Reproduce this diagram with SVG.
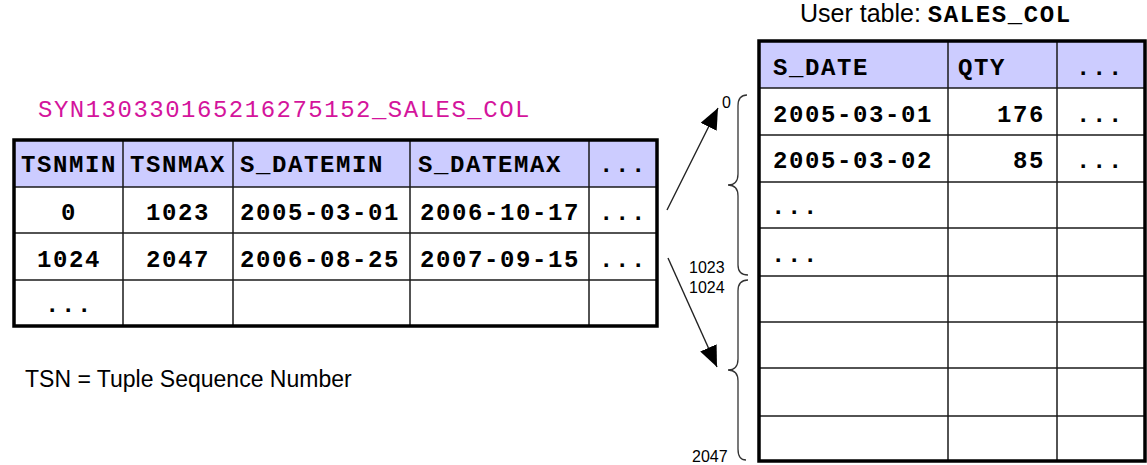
<svg xmlns="http://www.w3.org/2000/svg" width="1147" height="465" viewBox="0 0 1147 465">
  <style>
    .mono { font-family: "Liberation Mono", "DejaVu Sans Mono", monospace; font-size: 24px; letter-spacing: 1.6px; fill: #000; }
    .b { font-weight: bold; }
    .mid { text-anchor: middle; }
    .end { text-anchor: end; }
    .sans { font-family: "Liberation Sans", Arial, sans-serif; fill: #000; }
    .hdr { fill: #ccccff; }
    .grid { stroke: #1a1a1a; stroke-width: 1.5; fill: none; }
    .frame { stroke: #000; stroke-width: 3.5; fill: none; }
    .conn { stroke: #222; stroke-width: 1.4; fill: none; }
    .brace { stroke: #333; stroke-width: 1.3; fill: none; }
    .lbl { font-family: "Liberation Sans", Arial, sans-serif; font-size: 16px; fill: #000; }
  </style>
  <defs>
    <marker id="head" markerUnits="userSpaceOnUse" markerWidth="24" markerHeight="20" refX="21" refY="9" orient="auto">
      <path d="M0,0 L21,9 L0,18 z" fill="#000"/>
    </marker>
  </defs>

  <rect width="1147" height="465" fill="#fff"/>

  <!-- synopsis table -->
  <g id="synopsis-table">
    <text class="mono" x="38" y="117" style="fill:#d4149c;letter-spacing:1.5px">SYN130330165216275152_SALES_COL</text>
    <rect class="hdr" x="14" y="140" width="643" height="47"/>
    <g class="grid">
      <line x1="14" y1="187" x2="657" y2="187"/>
      <line x1="14" y1="233" x2="657" y2="233"/>
      <line x1="14" y1="280" x2="657" y2="280"/>
      <line x1="123" y1="140" x2="123" y2="326"/>
      <line x1="233" y1="140" x2="233" y2="326"/>
      <line x1="410" y1="140" x2="410" y2="326"/>
      <line x1="589" y1="140" x2="589" y2="326"/>
    </g>
    <rect class="frame" x="14" y="140" width="643" height="186"/>
    <text class="mono b mid" x="69" y="172">TSNMIN</text>
    <text class="mono b mid" x="178" y="172">TSNMAX</text>
    <text class="mono b" x="240" y="172">S_DATEMIN</text>
    <text class="mono b" x="418" y="172">S_DATEMAX</text>
    <text class="mono b mid" x="623" y="172">...</text>

    <text class="mono b mid" x="69" y="220">0</text>
    <text class="mono b mid" x="178" y="220">1023</text>
    <text class="mono b" x="240" y="220">2005-03-01</text>
    <text class="mono b" x="420" y="220">2006-10-17</text>
    <text class="mono b mid" x="623" y="220">...</text>

    <text class="mono b mid" x="69" y="267">1024</text>
    <text class="mono b mid" x="178" y="267">2047</text>
    <text class="mono b" x="240" y="267">2006-08-25</text>
    <text class="mono b" x="420" y="267">2007-09-15</text>
    <text class="mono b mid" x="623" y="267">...</text>

    <text class="mono b mid" x="69" y="312">...</text>
  </g>

  <text id="footnote" class="sans" x="25" y="387" font-size="23">TSN = Tuple Sequence Number</text>

  <!-- user table -->
  <g id="user-table">
    <text class="sans" x="800" y="22" font-size="25">User table: <tspan class="mono b" font-size="24">SALES_COL</tspan></text>
    <rect class="hdr" x="759" y="41" width="386" height="47"/>
    <g class="grid">
      <line x1="759" y1="88" x2="1145" y2="88"/>
      <line x1="759" y1="135" x2="1145" y2="135"/>
      <line x1="759" y1="182" x2="1145" y2="182"/>
      <line x1="759" y1="228" x2="1145" y2="228"/>
      <line x1="759" y1="276" x2="1145" y2="276"/>
      <line x1="759" y1="322" x2="1145" y2="322"/>
      <line x1="759" y1="368" x2="1145" y2="368"/>
      <line x1="759" y1="416" x2="1145" y2="416"/>
      <line x1="948" y1="41" x2="948" y2="461"/>
      <line x1="1057" y1="41" x2="1057" y2="461"/>
    </g>
    <rect class="frame" x="759" y="41" width="386" height="420"/>
    <text class="mono b" x="773" y="75">S_DATE</text>
    <text class="mono b" x="958" y="75">QTY</text>
    <text class="mono b mid" x="1100" y="75">...</text>

    <text class="mono b" x="773" y="122">2005-03-01</text>
    <text class="mono b end" x="1045" y="122">176</text>
    <text class="mono b mid" x="1100" y="122">...</text>

    <text class="mono b" x="773" y="168">2005-03-02</text>
    <text class="mono b end" x="1045" y="168">85</text>
    <text class="mono b mid" x="1100" y="168">...</text>

    <text class="mono b" x="771" y="214">...</text>
    <text class="mono b" x="771" y="262">...</text>
  </g>

  <!-- pointers from synopsis rows into the user table, with TSN ranges -->
  <g id="connectors">
    <line class="conn" x1="667" y1="210" x2="718" y2="108" marker-end="url(#head)"/>
    <line class="conn" x1="668" y1="258" x2="717" y2="367" marker-end="url(#head)"/>
    <path class="brace" d="M747,95 Q738,95 738,106 L738,174 Q738,185 728,185 Q738,185 738,196 L738,265 Q738,275 748,275"/>
    <path class="brace" d="M748,280 Q738,280 738,291 L738,359 Q738,370 728,370 Q738,370 738,381 L738,449 Q738,460 746,460"/>
  </g>

  <g id="tsn-labels">
    <text class="lbl" x="722" y="108">0</text>
    <text class="lbl" x="689" y="273">1023</text>
    <text class="lbl" x="689" y="293">1024</text>
    <text class="lbl" x="692" y="462">2047</text>
  </g>
</svg>
